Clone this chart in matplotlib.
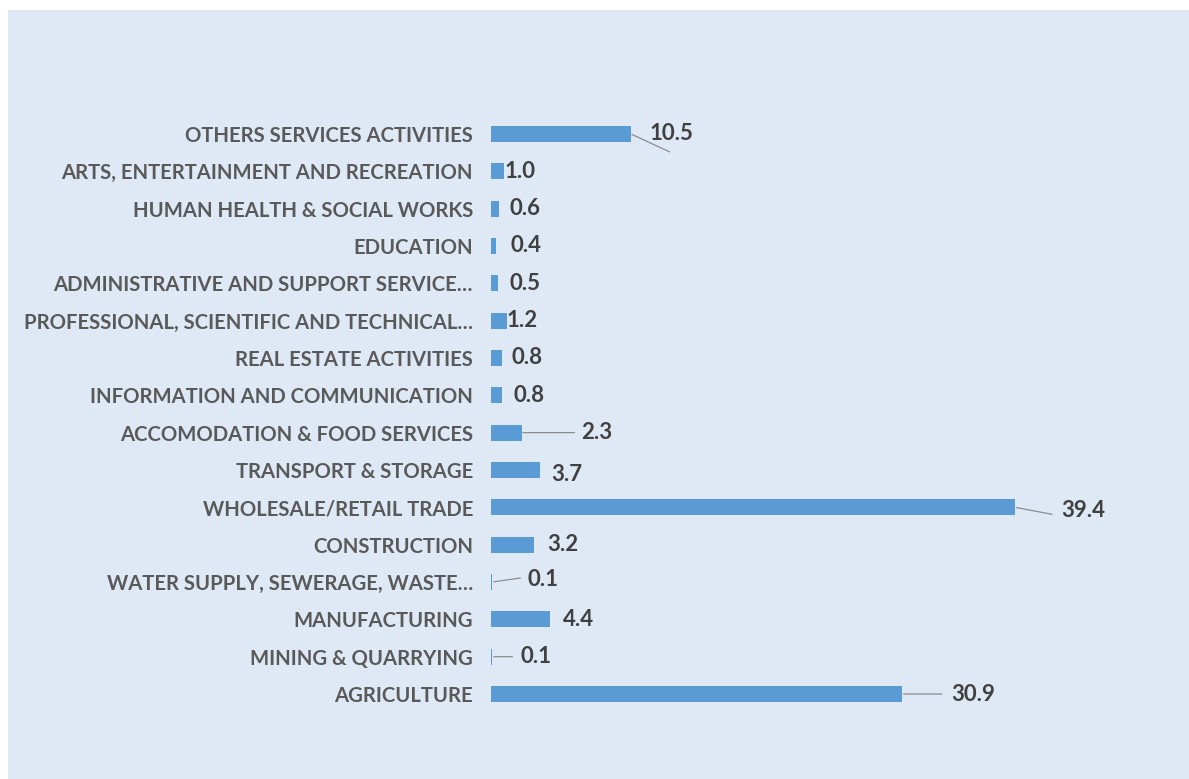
import matplotlib
matplotlib.use("Agg")
import matplotlib.pyplot as plt
from matplotlib.patches import Rectangle

categories = [
    "OTHERS SERVICES ACTIVITIES",
    "ARTS, ENTERTAINMENT AND RECREATION",
    "HUMAN HEALTH & SOCIAL WORKS",
    "EDUCATION",
    "ADMINISTRATIVE AND SUPPORT SERVICE…",
    "PROFESSIONAL, SCIENTIFIC AND TECHNICAL…",
    "REAL ESTATE ACTIVITIES",
    "INFORMATION AND COMMUNICATION",
    "ACCOMODATION & FOOD SERVICES",
    "TRANSPORT & STORAGE",
    "WHOLESALE/RETAIL TRADE",
    "CONSTRUCTION",
    "WATER SUPPLY, SEWERAGE, WASTE…",
    "MANUFACTURING",
    "MINING & QUARRYING",
    "AGRICULTURE",
]
values = [10.5, 1.0, 0.6, 0.4, 0.5, 1.2, 0.8, 0.8, 2.3, 3.7, 39.4, 3.2, 0.1, 4.4, 0.1, 30.9]

# data-label placement: pixel offsets of the text from the bar end
label_dx = [19, 0, 11, 14, 12, 0, 10, 12, 60, 11, 46, 14, 35, 13, 28, 49]
label_dy = [0, 0, 0, 0, 0, 0, 0, 0, 0, -5, -3, 0, 3, 0, 0, 0]
# leader-line end points (pixel offsets from the bar end); None = no leader
leader_end = [(39, -18), None, None, None, None, None, None, None, (53, 0), None,
              (37, -7), None, (28, 4), None, (20, 0), (40, 0)]

BG = "#dfe8f5"
BAR = "#5b9bd5"
TXT = "#595959"
VAL = "#404040"
FONT = "Lato"

fig = plt.figure(figsize=(11.89, 7.79), dpi=100)
fig.patch.set_facecolor("white")
fig.add_artist(Rectangle((8 / 1189, 0), 1, 1 - 10 / 779, transform=fig.transFigure,
                         facecolor=BG, edgecolor="none", zorder=0))

ax = fig.add_axes([491 / 1189, 0.0851, (1156 - 491) / 1189, 0.767])
ax.set_facecolor("none")
ypos = list(range(len(categories)))
ax.barh(ypos, values, height=0.43, color=BAR, zorder=2)
ax.set_xlim(0, 50)
ax.set_ylim(len(categories) - 0.5, -0.5)
ax.set_yticks(ypos)
ax.set_yticklabels(categories, fontsize=14.6, color=TXT, fontfamily=FONT, fontweight="bold")
ax.tick_params(axis="y", length=0, pad=13)
ax.set_xticks([])
for s in ax.spines.values():
    s.set_visible(False)

for y, v, dx, dy, le in zip(ypos, values, label_dx, label_dy, leader_end):
    ax.annotate(f"{v:.1f}", xy=(v, y), xytext=(dx, dy), textcoords="offset pixels",
                ha="left", va="center", fontsize=16, color=VAL, fontfamily=FONT,
                fontweight="bold", zorder=3)
    if le is not None:
        ax.annotate("", xy=(v, y), xytext=le, textcoords="offset pixels",
                    arrowprops=dict(arrowstyle="-", color="#8c8c8c", lw=0.9,
                                    shrinkA=0, shrinkB=1), zorder=3)

fig.savefig("out.png", dpi=100)
